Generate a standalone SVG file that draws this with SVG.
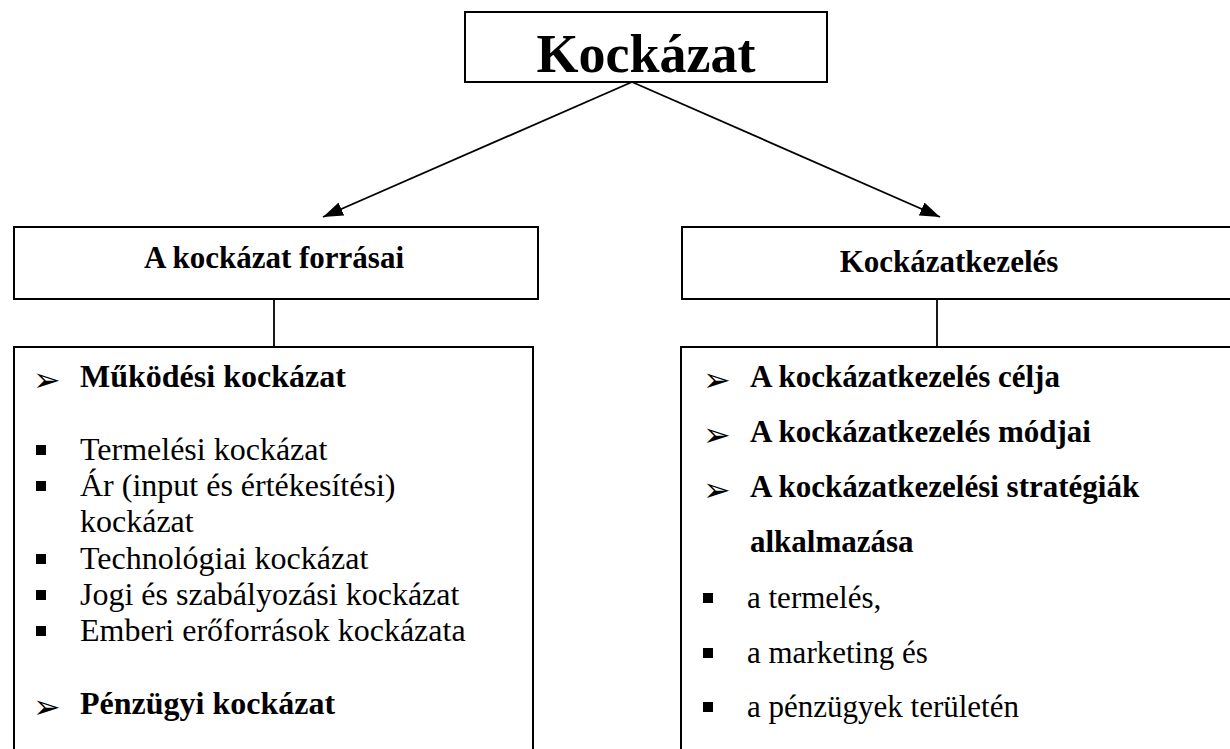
<svg xmlns="http://www.w3.org/2000/svg" width="1230" height="749" viewBox="0 0 1230 749">
<style>
.box{fill:#fff;stroke:#000;stroke-width:2}
.con{stroke:#000;stroke-width:1.8;fill:none}
.t{font-family:"Liberation Serif","Times New Roman",serif;fill:#000}
.b{font-weight:bold}
.h{font-size:31px;font-weight:bold;text-anchor:middle}
.lb{font-size:32px}
.rb{font-size:31px}
.arr{font-family:"DejaVu Sans",sans-serif;font-size:33px;fill:#000}
.sq{fill:#000}
</style>
<defs>
<marker id="ah" viewBox="0 0 20 14" refX="20" refY="7" markerWidth="20" markerHeight="14" markerUnits="userSpaceOnUse" orient="auto">
<path d="M0,0 L20,7 L0,14 z" fill="#000"/>
</marker>
</defs>
<rect width="1230" height="749" fill="#fff"/>
<g id="connectors">
<line class="con" x1="632" y1="82" x2="323" y2="217" marker-end="url(#ah)"/>
<line class="con" x1="632" y1="82" x2="940" y2="217" marker-end="url(#ah)"/>
<line class="con" x1="274" y1="299" x2="274" y2="347"/>
<line class="con" x1="937" y1="299" x2="937" y2="347"/>
</g>
<g id="title">
<rect class="box" x="465" y="12" width="362" height="70"/>
<text class="t b" x="646" y="72" font-size="54" text-anchor="middle">Kockázat</text>
</g>
<g id="sources">
<rect class="box" x="14" y="227" width="524" height="72"/>
<text class="t h" x="274" y="268">A kockázat forrásai</text>
</g>
<g id="management">
<rect class="box" x="682" y="227" width="560" height="72"/>
<text class="t h" x="949" y="272">Kockázatkezelés</text>
</g>
<g id="sources-list">
<rect class="box" x="14" y="347" width="519" height="420"/>
<text class="arr" x="33" y="391">➢</text>
<text class="t lb b" x="80" y="387">Működési kockázat</text>
<rect class="sq" x="36" y="445" width="10" height="10"/>
<text class="t lb" x="80" y="460">Termelési kockázat</text>
<rect class="sq" x="36" y="481" width="10" height="10"/>
<text class="t lb" x="80" y="496">Ár (input és értékesítési)</text>
<text class="t lb" x="80" y="532">kockázat</text>
<rect class="sq" x="36" y="554" width="10" height="10"/>
<text class="t lb" x="80" y="569">Technológiai kockázat</text>
<rect class="sq" x="36" y="590" width="10" height="10"/>
<text class="t lb" x="80" y="605">Jogi és szabályozási kockázat</text>
<rect class="sq" x="36" y="626" width="10" height="10"/>
<text class="t lb" x="80" y="641">Emberi erőforrások kockázata</text>
<text class="arr" x="33" y="718">➢</text>
<text class="t lb b" x="80" y="714">Pénzügyi kockázat</text>
</g>
<g id="management-list">
<rect class="box" x="681" y="347" width="560" height="420"/>
<text class="arr" x="703" y="391">➢</text>
<text class="t rb b" x="750" y="387">A kockázatkezelés célja</text>
<text class="arr" x="703" y="446">➢</text>
<text class="t rb b" x="750" y="442">A kockázatkezelés módjai</text>
<text class="arr" x="703" y="501">➢</text>
<text class="t rb b" x="750" y="497">A kockázatkezelési stratégiák</text>
<text class="t rb b" x="750" y="552">alkalmazása</text>
<rect class="sq" x="703" y="593" width="10" height="10"/>
<text class="t rb" x="747" y="608">a termelés,</text>
<rect class="sq" x="703" y="648" width="10" height="10"/>
<text class="t rb" x="747" y="663">a marketing és</text>
<rect class="sq" x="703" y="702" width="10" height="10"/>
<text class="t rb" x="747" y="717">a pénzügyek területén</text>
</g>
</svg>
